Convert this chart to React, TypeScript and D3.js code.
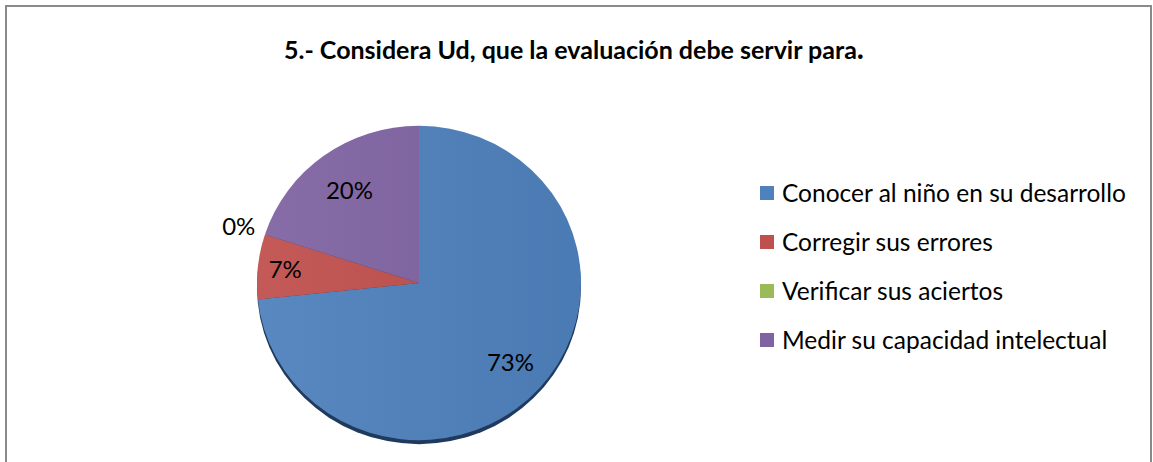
import React from "react";
import * as d3 from "d3";

const title = "5.- Considera Ud, que la evaluación debe servir para";
const categories = [
  "Conocer al niño en su desarrollo",
  "Corregir sus errores",
  "Verificar sus aciertos",
  "Medir su capacidad intelectual",
];
const values = [11, 1, 0, 3];
const colors = ["#4F81BD", "#C0504D", "#9BBB59", "#8064A2"];
const labelRadiusFactor = [0.76, 0.83, 1.17, 0.73];

const W = 1153;
const H = 462;
const cx = 419;
const cy = 283;
const R = 162;
const yScale = 0.97;
const FONT = "Lato, 'Open Sans', sans-serif";

export default function App() {
  const total = d3.sum(values);
  const pie = d3
    .pie<number>()
    .sort(null)
    .value((d) => d)
    .startAngle(0)
    .endAngle(2 * Math.PI);
  const arcs = pie(values);
  const arc = d3.arc<d3.PieArcDatum<number>>().innerRadius(0).outerRadius(R);
  const pct = (v: number) => `${Math.round((v / total) * 100)}%`;

  const legendY = d3
    .scalePoint<string>()
    .domain(categories)
    .range([193, 340]);

  return (
    <svg
      width={W}
      height={H}
      style={{ position: "absolute", left: 0, top: 0, background: "#fff" }}
    >
      <defs>
        <linearGradient id="shade" x1="0" y1="0" x2="1" y2="0">
          <stop offset="0%" stopColor="#fff" stopOpacity={0.06} />
          <stop offset="100%" stopColor="#000" stopOpacity={0.05} />
        </linearGradient>
      </defs>
      <rect
        x={6}
        y={6}
        width={1145}
        height={470}
        fill="#fff"
        stroke="#8a8a8a"
        strokeWidth={2}
      />
      <text
        x={574}
        y={59}
        textAnchor="middle"
        fontFamily={FONT}
        fontWeight="bold"
        fontSize={25}
        fill="#000"
      >
        {title}
        <tspan fontSize={30}>.</tspan>
      </text>

      {/* bottom rim */}
      <g transform={`translate(${cx},${cy + 4}) scale(1,${yScale})`}>
        <circle r={R} fill="#1f3a5c" />
      </g>
      <g transform={`translate(${cx},${cy}) scale(1,${yScale})`}>
        {arcs.map((a, i) =>
          a.value > 0 ? (
            <path key={i} d={arc(a) || ""} fill={colors[i]} />
          ) : null
        )}
        <circle r={R} fill="url(#shade)" />
      </g>
      {arcs.map((a, i) => {
        const k = labelRadiusFactor[i];
        const c = d3
          .arc<d3.PieArcDatum<number>>()
          .innerRadius(R * k)
          .outerRadius(R * k)
          .centroid(a);
        return (
          <text
            key={i}
            x={cx + c[0]}
            y={cy + c[1] * yScale}
            dy="0.35em"
            textAnchor="middle"
            fontFamily={FONT}
            fontSize={24}
            fill="#000"
          >
            {pct(a.value)}
          </text>
        );
      })}

      {categories.map((c, i) => (
        <g key={c} transform={`translate(760,${legendY(c)})`}>
          <rect x={0} y={-7} width={14} height={14} fill={colors[i]} />
          <text
            x={22}
            y={0}
            dy="0.35em"
            fontFamily={FONT}
            fontSize={24.5}
            fill="#000"
          >
            {c}
          </text>
        </g>
      ))}
    </svg>
  );
}
